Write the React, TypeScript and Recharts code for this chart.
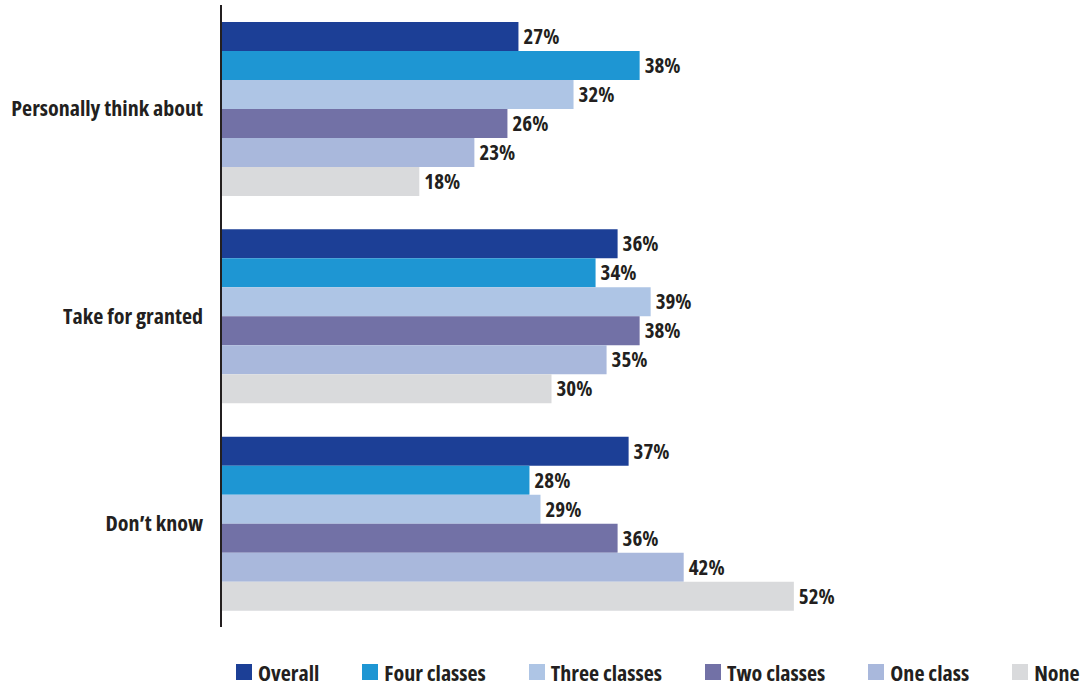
import React from 'react';
import { BarChart, Bar, XAxis, YAxis, LabelList, Legend } from 'recharts';

const categories = ['Personally think about', 'Take for granted', 'Don\u2019t know'];
const seriesNames = ['Overall', 'Four classes', 'Three classes', 'Two classes', 'One class', 'None'];
const seriesKeys = ['overall', 'four', 'three', 'two', 'one', 'none'];
const seriesColors = ['#1c3f96', '#1e96d3', '#aec5e5', '#7271a6', '#a9b8dc', '#d9dadc'];

const overall = [27, 36, 37];
const fourClasses = [38, 34, 28];
const threeClasses = [32, 39, 29];
const twoClasses = [26, 38, 36];
const oneClass = [23, 35, 42];
const none = [18, 30, 52];

const seriesValues = [overall, fourClasses, threeClasses, twoClasses, oneClass, none];

const data = categories.map((name, i) => {
  const row: Record<string, string | number> = { name };
  seriesKeys.forEach((k, s) => {
    row[k] = seriesValues[s][i];
  });
  return row;
});

const FONT = '"Open Sans", sans-serif';
const TEXT = '#231f20';

const LegendContent = () => (
  <div
    style={{
      height: 63,
      boxSizing: 'border-box',
      paddingTop: 27,
      paddingLeft: 236,
      display: 'flex',
      alignItems: 'center',
      fontFamily: FONT,
      fontStretch: '75%',
      fontWeight: 700,
      fontSize: 22,
      color: TEXT,
      whiteSpace: 'nowrap',
    }}
  >
    {seriesNames.map((n, i) => (
      <div key={n} style={{ display: 'flex', alignItems: 'center', marginRight: 43 }}>
        <span style={{ width: 16, height: 16, background: seriesColors[i], display: 'inline-block', marginRight: 6 }} />
        <span>{n}</span>
      </div>
    ))}
  </div>
);

export default function App() {
  return (
    <div style={{ position: 'absolute', left: 0, top: 0, width: 1083, height: 690, background: '#fff' }}>
      <BarChart
        width={1083}
        height={690}
        data={data}
        layout="vertical"
        margin={{ top: 5, right: 201, left: 0, bottom: 0 }}
        barCategoryGap={17}
        barGap={0}
      >
        <XAxis type="number" domain={[0, 60]} hide />
        <YAxis
          type="category"
          dataKey="name"
          width={221}
          tickLine={false}
          tickMargin={12}
          axisLine={{ stroke: TEXT, strokeWidth: 2 }}
          tick={{ fill: TEXT, fontSize: 22, fontWeight: 700, fontFamily: FONT, style: { fontStretch: '75%' } }}
        />
        <Legend verticalAlign="bottom" content={<LegendContent />} />
        {seriesKeys.map((k, i) => (
          <Bar key={k} dataKey={k} name={seriesNames[i]} fill={seriesColors[i]} isAnimationActive={false}>
            <LabelList
              dataKey={k}
              position="right"
              offset={5}
              formatter={(v: number) => `${v}%`}
              style={{ fill: TEXT, fontSize: 21, fontWeight: 700, fontFamily: FONT, fontStretch: '75%' }}
            />
          </Bar>
        ))}
      </BarChart>
    </div>
  );
}
